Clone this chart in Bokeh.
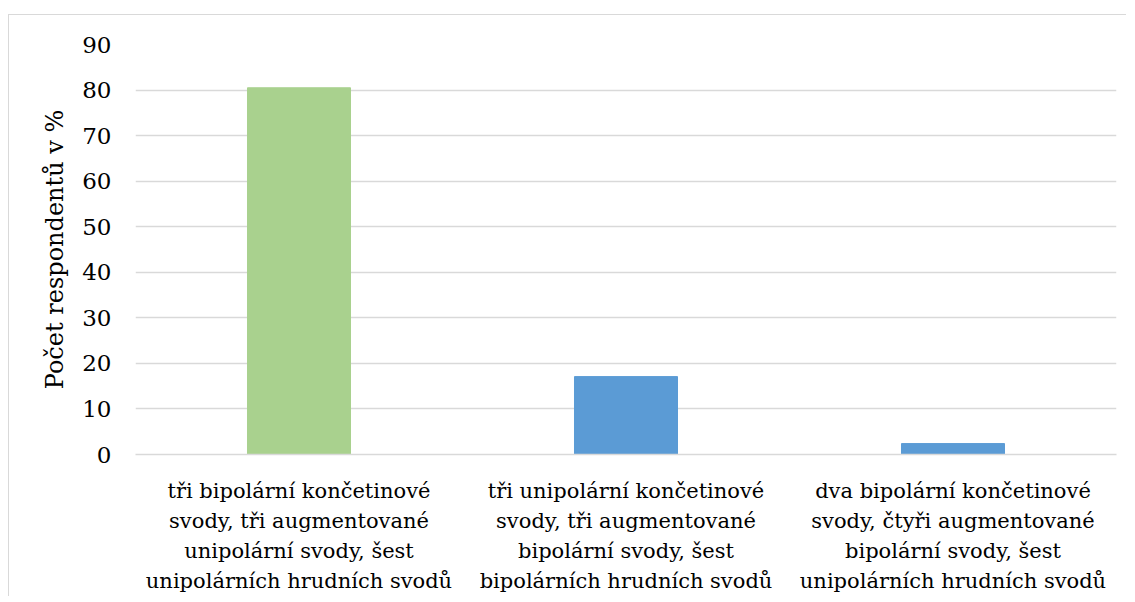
from bokeh.plotting import figure
from bokeh.models import ColumnDataSource, Range1d, SingleIntervalTicker
from bokeh.embed import file_html
from bokeh.resources import INLINE

categories = [
    "tři bipolární končetinové\nsvody, tři augmentované\nunipolární svody, šest\nunipolárních hrudních svodů",
    "tři unipolární končetinové\nsvody, tři augmentované\nbipolární svody, šest\nbipolárních hrudních svodů",
    "dva bipolární končetinové\nsvody, čtyři augmentované\nbipolární svody, šest\nunipolárních hrudních svodů",
]
values = [80.5, 17.1, 2.4]
colors = ["#A9D18E", "#5B9BD5", "#5B9BD5"]

src = ColumnDataSource(dict(cat=categories, val=values, color=colors))

FONT = "DejaVu Serif"

p = figure(x_range=categories, y_range=Range1d(0, 90),
           frame_width=981, frame_height=410,
           output_backend="svg", toolbar_location=None,
           min_border_left=126, min_border_right=10, min_border_top=29, min_border_bottom=130)
p.margin = (14, 0, 0, 8)
p.styles = {"border-left": "1px solid #d9d9d9", "border-top": "1px solid #d9d9d9"}

p.vbar(x="cat", top="val", width=0.315, fill_color="color", line_color="color", source=src)

p.outline_line_color = None
p.xgrid.grid_line_color = None
p.ygrid.grid_line_color = "#d9d9d9"
p.ygrid.grid_line_width = 1.5

p.yaxis.ticker = SingleIntervalTicker(interval=10)
p.yaxis.axis_line_color = None
p.yaxis.major_tick_line_color = None
p.yaxis.minor_tick_line_color = None
p.yaxis.major_label_text_font = FONT
p.yaxis.major_label_text_font_size = "23px"
p.yaxis.major_label_text_color = "#000000"
p.yaxis.major_label_standoff = 18
p.yaxis.axis_label = "Počet respondentů v %"
p.yaxis.axis_label_text_font = FONT
p.yaxis.axis_label_text_font_size = "24px"
p.yaxis.axis_label_text_font_style = "normal"
p.yaxis.axis_label_text_color = "#000000"
p.yaxis.axis_label_standoff = 10

p.xaxis.axis_line_color = "#d9d9d9"
p.xaxis.axis_line_width = 1.5
p.xaxis.major_tick_line_color = None
p.xaxis.minor_tick_line_color = None
p.xaxis.major_label_text_font = FONT
p.xaxis.major_label_text_font_size = "21px"
p.xaxis.major_label_text_color = "#000000"
p.xaxis.major_label_text_line_height = 1.26
p.xaxis.major_label_standoff = 18

open("out.html", "w").write(file_html(p, INLINE))
